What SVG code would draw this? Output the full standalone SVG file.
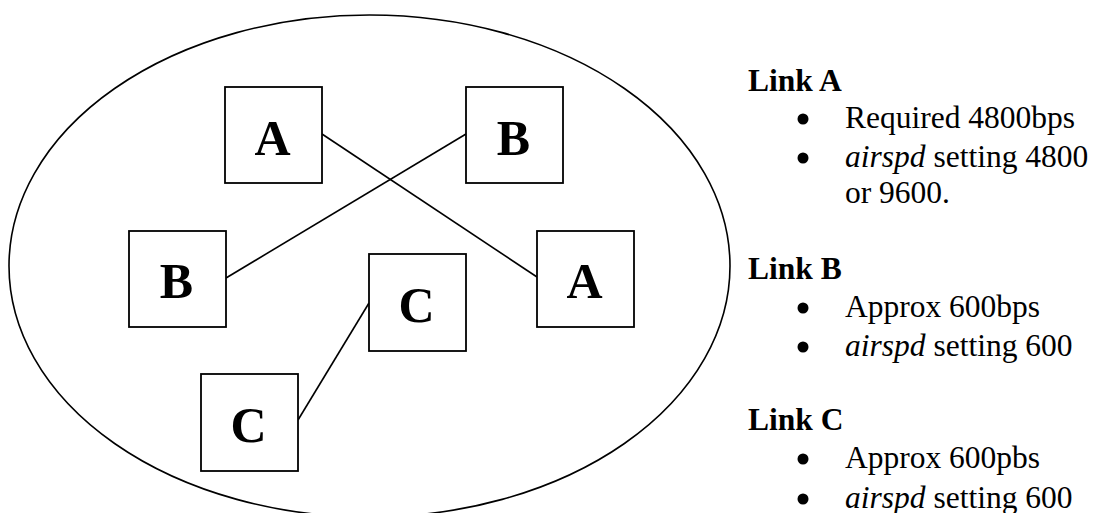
<svg xmlns="http://www.w3.org/2000/svg" width="1095" height="513" viewBox="0 0 1095 513">
<style>
.box{fill:#fff;stroke:#000;stroke-width:1.8}
.lbl{font-family:"Liberation Serif","Times New Roman",serif;font-weight:bold;font-size:50px;text-anchor:middle;fill:#000}
.conn line{stroke:#000;stroke-width:1.6}
.t{font-family:"Liberation Serif","Times New Roman",serif;font-size:31.5px;fill:#000}
.h{font-weight:bold}
.dot{fill:#000}
</style>
<rect width="1095" height="513" fill="#fff"/>
<ellipse id="cloud" cx="369.5" cy="266" rx="360.5" ry="251" fill="none" stroke="#000" stroke-width="1.6"/>
<g class="conn" id="connectors">
<line x1="322" y1="134" x2="537" y2="277"/>
<line x1="226" y1="278" x2="466" y2="134"/>
<line x1="298" y1="420" x2="369" y2="303"/>
</g>
<g id="nodeA1"><rect class="box" x="225" y="87" width="97" height="96"/><text class="lbl" x="272.5" y="155">A</text></g>
<g id="nodeB1"><rect class="box" x="466" y="87" width="97" height="96"/><text class="lbl" x="513.5" y="155">B</text></g>
<g id="nodeB2"><rect class="box" x="129" y="231" width="97" height="96"/><text class="lbl" x="176.5" y="298">B</text></g>
<g id="nodeA2"><rect class="box" x="537" y="231" width="97" height="96"/><text class="lbl" x="584.5" y="298">A</text></g>
<g id="nodeC1"><rect class="box" x="369" y="254" width="97" height="97"/><text class="lbl" x="416.5" y="322">C</text></g>
<g id="nodeC2"><rect class="box" x="201" y="374" width="97" height="97"/><text class="lbl" x="248.5" y="442">C</text></g>
<g id="legend">
<text class="t h" x="748" y="91">Link A</text>
<circle class="dot" cx="803" cy="119" r="5.5"/>
<text class="t" x="845" y="128">Required 4800bps</text>
<circle class="dot" cx="803" cy="158" r="5.5"/>
<text class="t" x="845" y="167"><tspan font-style="italic">airspd</tspan> setting 4800</text>
<text class="t" x="845" y="203">or 9600.</text>
<text class="t h" x="748" y="279">Link B</text>
<circle class="dot" cx="803" cy="308" r="5.5"/>
<text class="t" x="845" y="317">Approx 600bps</text>
<circle class="dot" cx="803" cy="347" r="5.5"/>
<text class="t" x="845" y="356"><tspan font-style="italic">airspd</tspan> setting 600</text>
<text class="t h" x="748" y="430">Link C</text>
<circle class="dot" cx="803" cy="459" r="5.5"/>
<text class="t" x="845" y="468">Approx 600pbs</text>
<circle class="dot" cx="803" cy="499" r="5.5"/>
<text class="t" x="845" y="508"><tspan font-style="italic">airspd</tspan> setting 600</text>
</g>
</svg>
